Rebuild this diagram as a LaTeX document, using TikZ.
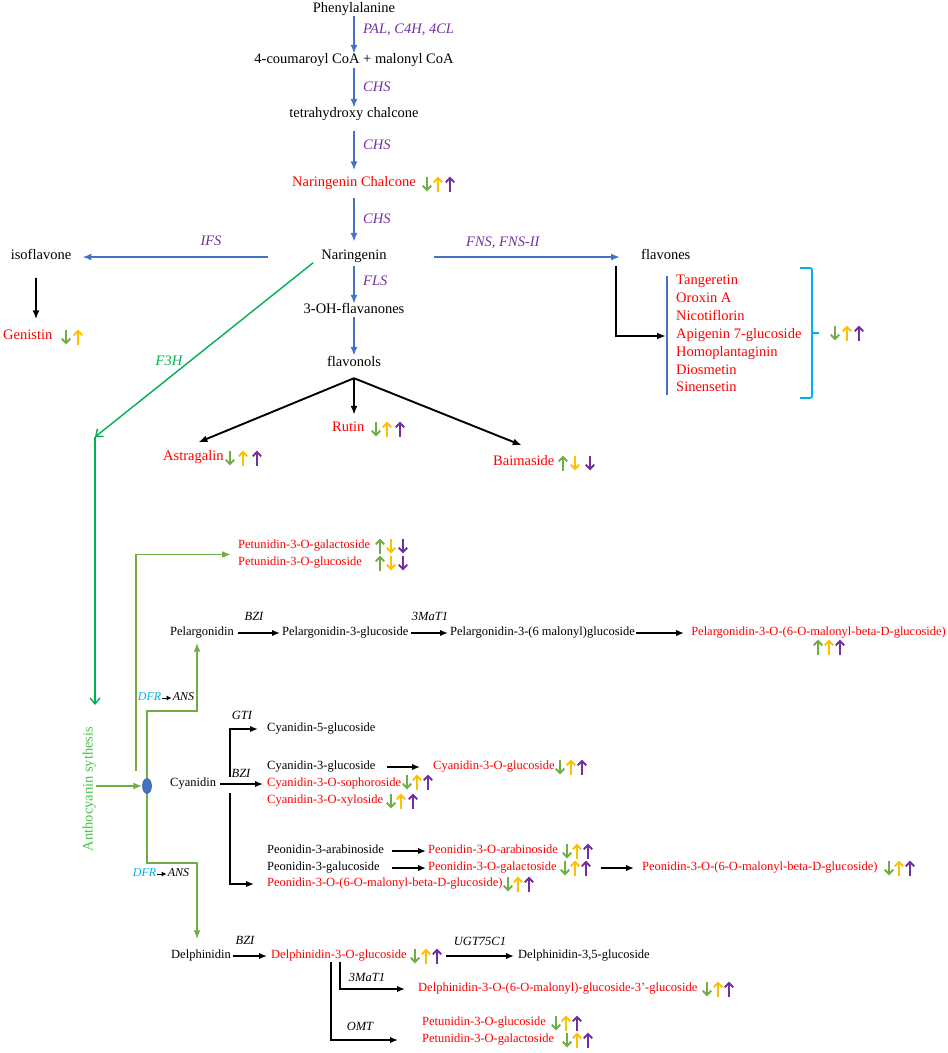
\documentclass[tikz,border=0pt]{standalone}
\usepackage{fontspec}
\setmainfont{Liberation Serif}
\usetikzlibrary{arrows.meta,calc,shapes.geometric}
\definecolor{ablue}{HTML}{4472C4}
\definecolor{epurp}{HTML}{7030A0}
\definecolor{cred}{HTML}{FF0000}
\definecolor{ag}{HTML}{70AD47}
\definecolor{ay}{HTML}{FFC000}
\definecolor{ap}{HTML}{7030A0}
\definecolor{fgreen}{HTML}{00B050}
\definecolor{anthg}{HTML}{4CC24C}
\definecolor{lgreen}{HTML}{70AD47}
\definecolor{bcyan}{HTML}{00B0F0}
\tikzset{
 glyph/.style={line width=1.9pt,-{Straight Barb[length=4.5pt,width=8.5pt]}},
 pics/U/.style={code={\draw[glyph,draw=#1] (0,7.5) -- (0,-7.5);}},
 pics/D/.style={code={\draw[glyph,draw=#1] (0,-7.5) -- (0,7.5);}},
}
\begin{document}
\begin{tikzpicture}[x=1pt,y=-1pt,
 every node/.style={inner sep=1pt,text height=0.7em,text depth=0.2em},
 big/.style={font=\fontsize{14.5}{17}\selectfont},
 sm/.style={font=\fontsize{12.5}{15}\selectfont},
 bigr/.style={big,text=cred},
 smr/.style={sm,text=cred},
 enz/.style={font=\fontsize{14.5}{17}\selectfont\itshape,text=epurp},
 senz/.style={font=\fontsize{12.5}{15}\selectfont\itshape},
 barr/.style={draw=ablue,line width=1.8pt,-{Latex[length=9pt,width=7pt]}},
 karr/.style={draw=black,line width=1.9pt,-{Latex[length=9pt,width=7pt]}},
 skarr/.style={draw=black,line width=1.7pt,-{Latex[length=8pt,width=6.5pt]}},
 garr/.style={draw=lgreen,line width=1.8pt,-{Latex[length=9pt,width=7pt]}},
 fline/.style={draw=fgreen,line width=1.4pt,-{Straight Barb[length=6pt,width=10pt]}},
]
\useasboundingbox (0,0) rectangle (948,1053);

% ---------- main chain ----------
\node[big] (phe) at (354,10) {Phenylalanine};
\node[big] (cou) at (354,61) {4-coumaroyl CoA + malonyl CoA};
\node[big] (tet) at (354,115) {tetrahydroxy chalcone};
\node[bigr] (nch) at (354,184) {Naringenin Chalcone};
\node[big] (nar) at (354,257) {Naringenin};
\node[big] (oh) at (354,311) {3-OH-flavanones};
\node[big] (flo) at (354,364) {flavonols};

\node[enz,anchor=west] (e1) at (362,31) {PAL, C4H, 4CL};
\node[enz,anchor=west] (e2) at (362,89) {CHS};
\node[enz,anchor=west] (e3) at (362,147) {CHS};
\node[enz,anchor=west] (e4) at (362,221) {CHS};
\node[enz] (e5) at (211,243) {IFS};
\node[enz,anchor=west] (e6) at (465,244) {FNS, FNS-II};
\node[enz,anchor=west] (e7) at (362,283) {FLS};
\node[enz,text=fgreen] (e8) at (169,363) {F3H};

\draw[barr,shorten <=0pt,shorten >=1.5pt] (phe) -- (cou);
\draw[barr,shorten <=1.5pt,shorten >=1.5pt] (cou) -- (tet);
\draw[barr,shorten <=10pt,shorten >=8pt] (tet) -- (nch);
\draw[barr,shorten <=8.5pt,shorten >=9.5pt] (nch) -- (nar);
\draw[barr,shorten <=3.5pt,shorten >=1.5pt] (nar) -- (oh);
\draw[barr,shorten >=2.5pt] (oh) -- (flo);

\pic at (427,184) {D=ag}; \pic at (438,184) {U=ay}; \pic at (450,184) {U=ap};

% ---------- isoflavone ----------
\node[big] (iso) at (41,257) {isoflavone};
\node[bigr,anchor=west] (gen) at (2,337) {Genistin};
\draw[barr,shorten <=52pt,shorten >=10pt] (nar.west) -- (iso.east);
\draw[karr,shorten <=15pt,shorten >=12pt] ([xshift=-5pt]iso.south) -- ([xshift=-5pt]iso.south |- gen.north);
\pic at (66,337) {D=ag}; \pic at (78,337) {U=ay};

% ---------- flavones ----------
\node[big,anchor=west] (fla) at (640,257) {flavones};
\draw[barr,shorten <=46pt,shorten >=20pt] (nar.east) -- (fla.west);
\node[bigr,anchor=west] (l1) at (675,282) {Tangeretin};
\node[bigr,anchor=west] (l2) at (675,300) {Oroxin A};
\node[bigr,anchor=west] (l3) at (675,318) {Nicotiflorin};
\node[bigr,anchor=west] (l4) at (675,336) {Apigenin 7-glucoside};
\node[bigr,anchor=west] (l5) at (675,354) {Homoplantaginin};
\node[bigr,anchor=west] (l6) at (675,372) {Diosmetin};
\node[bigr,anchor=west] (l7) at (675,389) {Sinensetin};
\draw[karr,shorten <=3.5pt,shorten >=9pt] ([xshift=-24pt]fla.south west) |- (l4.west);
\draw[draw=ablue,line width=1.8pt] ([xshift=-8pt]l1.north west) -- ([xshift=-8pt]l7.south west);
\draw[draw=bcyan,line width=1.9pt,rounded corners=2pt] (800,268) -- (812,268) -- (812,398) -- (800,398);
\draw[draw=bcyan,line width=1.9pt] (812,333) -- (819,333);
\pic at (835,333) {D=ag}; \pic at (847,333) {U=ay}; \pic at (859,333) {U=ap};

% ---------- flavonols ----------
\node[bigr,anchor=west] (rut) at (331,429) {Rutin};
\node[bigr,anchor=west] (ast) at (162,458) {Astragalin};
\node[bigr,anchor=west] (bai) at (492,463) {Baimaside};
\coordinate (fork) at ($(flo.south)+(0,8.5)$);
\draw[karr,shorten >=8.5pt] (fork) -- (fork |- rut.north);
\draw[karr] (fork) -- ([xshift=5pt,yshift=10pt]ast.north);
\draw[karr] (fork) -- ([xshift=-2pt,yshift=12pt]bai.north);
\pic at (376,429) {D=ag}; \pic at (387,429) {U=ay}; \pic at (400,429) {U=ap};
\pic at (230,458) {D=ag}; \pic at (243,458) {U=ay}; \pic at (257,458) {U=ap};
\pic at (563,463) {U=ag}; \pic at (575,463) {D=ay}; \pic at (590,463) {D=ap};

% ---------- F3H / anthocyanin ----------
\coordinate (f3hc) at (95,437);
\coordinate (antop) at (95,705);
\draw[fline] ([xshift=-7pt]nar.south west) -- (f3hc);
\draw[fline] (f3hc) -- (antop);
\node[font=\fontsize{14.5}{17}\selectfont,text=anthg,rotate=90] (anth) at (90,789) {Anthocyanin sythesis};
\node[ellipse,fill=ablue,draw=ablue!70!black,line width=0.5pt,minimum width=9pt,minimum height=15pt,inner sep=0pt] (ell) at (147,786) {};
\draw[garr] (anth.south |- ell.west) -- (ell.west);

% petunidin (top)
\node[smr,anchor=west] (pet1) at (237,546) {Petunidin-3-O-galactoside};
\node[smr,anchor=west] (pet2) at (237,563) {Petunidin-3-O-glucoside};
\coordinate (pst) at (136,771);
\draw[garr,shorten >=6pt] (pst) |- ($(pet1.west)!.5!(pet2.west)$);
\pic at (380,546) {U=ag}; \pic at (391,546) {D=ay}; \pic at (403,546) {D=ap};
\pic at (380,563) {U=ag}; \pic at (391,563) {D=ay}; \pic at (403,563) {D=ap};

% pelargonidin
\node[sm,anchor=west] (pel) at (169,633) {Pelargonidin};
\node[sm,anchor=west] (pel3g) at (281,633) {Pelargonidin-3-glucoside};
\node[sm,anchor=west] (pel6m) at (449,633) {Pelargonidin-3-(6 malonyl)glucoside};
\node[smr,anchor=east] (pelr) at (947,633) {Pelargonidin-3-O-(6-O-malonyl-beta-D-glucoside)};
\node[senz] (bz1) at (254,618) {BZI};
\node[senz] (mt1) at (430,618) {3MaT1};
\draw[skarr,shorten <=3pt,shorten >=1pt] (pel.east) -- (pel3g.west);
\draw[skarr,shorten <=1.5pt,shorten >=1pt] (pel3g.east) -- (pel6m.west);
\draw[skarr,shorten >=6pt] (pel6m.east) -- (pelr.west);
\draw[garr,shorten >=4pt] (ell.north) -- (ell.north |- 0,711) -| ([xshift=-5pt]pel.south);
\pic at (818,647) {U=ag}; \pic at (829,647) {U=ay}; \pic at (840,647) {U=ap};

\node[font=\fontsize{12}{14}\selectfont\itshape,text=bcyan] (dfr1) at (149.5,698) {DFR};
\node[font=\fontsize{12}{14}\selectfont\itshape] (ans1) at (183.5,698) {ANS};
\draw[line width=0.9pt,-{Latex[length=5pt,width=5pt]}] (dfr1.east) -- (ans1.west);

% cyanidin
\node[sm,anchor=west] (cya) at (169,784) {Cyanidin};
\node[sm,anchor=west] (c5g) at (266,729) {Cyanidin-5-glucoside};
\node[sm,anchor=west] (c3g) at (266,767) {Cyanidin-3-glucoside};
\node[smr,anchor=west] (cog) at (432,767) {Cyanidin-3-O-glucoside};
\node[smr,anchor=west] (cs) at (266,784) {Cyanidin-3-O-sophoroside};
\node[smr,anchor=west] (cx) at (266,801) {Cyanidin-3-O-xyloside};
\node[sm,anchor=west] (pa) at (266,851) {Peonidin-3-arabinoside};
\node[smr,anchor=west] (par) at (427,851) {Peonidin-3-O-arabinoside};
\node[sm,anchor=west] (pg) at (266,868) {Peonidin-3-galucoside};
\node[smr,anchor=west] (pgr) at (427,868) {Peonidin-3-O-galactoside};
\node[smr,anchor=west] (pmr) at (641,868) {Peonidin-3-O-(6-O-malonyl-beta-D-glucoside)};
\node[smr,anchor=west] (pm) at (266,884) {Peonidin-3-O-(6-O-malonyl-beta-D-glucoside)};
\node[senz] (gti) at (242,717) {GTI};
\node[senz] (bz2) at (241,775) {BZI};
\coordinate (gt0) at (230,777);
\coordinate (pm0) at (230,793);
\draw[skarr,shorten <=3pt,shorten >=3pt] (cya.east) -- (cs.west);
\draw[skarr,shorten >=8pt] (gt0) |- (c5g.west);
\draw[skarr,shorten >=12pt] (pm0) |- (pm.west);
\draw[skarr,shorten <=10.5pt,shorten >=12pt] (c3g.east) -- (cog.west);
\draw[skarr,shorten <=7pt,shorten >=1pt] (pa.east) -- (par.west);
\draw[skarr,shorten <=11pt,shorten >=1pt] (pg.east) -- (pgr.west);
\draw[skarr,shorten <=43pt,shorten >=7pt] (pgr.east) -- (pmr.west);
\pic at (560,767) {D=ag}; \pic at (571,767) {U=ay}; \pic at (582,767) {U=ap};
\pic at (407,782) {D=ag}; \pic at (417,782) {U=ay}; \pic at (428,782) {U=ap};
\pic at (391,801) {D=ag}; \pic at (401,801) {U=ay}; \pic at (413,801) {U=ap};
\pic at (567,851) {D=ag}; \pic at (577,851) {U=ay}; \pic at (588,851) {U=ap};
\pic at (565,868) {D=ag}; \pic at (575,868) {U=ay}; \pic at (586,868) {U=ap};
\pic at (889,868) {D=ag}; \pic at (899,868) {U=ay}; \pic at (910,868) {U=ap};
\pic at (508,884) {D=ag}; \pic at (518,884) {U=ay}; \pic at (529,884) {U=ap};

\node[font=\fontsize{12}{14}\selectfont\itshape,text=bcyan] (dfr2) at (144.5,874) {DFR};
\node[font=\fontsize{12}{14}\selectfont\itshape] (ans2) at (178.5,874) {ANS};
\draw[line width=0.9pt,-{Latex[length=5pt,width=5pt]}] (dfr2.east) -- (ans2.west);

% delphinidin
\node[sm,anchor=west] (del) at (170,956) {Delphinidin};
\node[smr,anchor=west] (dog) at (270,956) {Delphinidin-3-O-glucoside};
\node[sm,anchor=west] (d35) at (517,956) {Delphinidin-3,5-glucoside};
\node[smr,anchor=west] (dmal) at (417,989) {Delphinidin-3-O-(6-O-malonyl)-glucoside-3'-glucoside};
\node[smr,anchor=west] (pg3) at (421,1023) {Petunidin-3-O-glucoside};
\node[smr,anchor=west] (pga3) at (421,1040) {Petunidin-3-O-galactoside};
\node[senz] (bz3) at (245,942) {BZI};
\node[senz] (ugt) at (480,943) {UGT75C1};
\node[senz] (mt2) at (367,979) {3MaT1};
\node[senz] (omt) at (360,1028) {OMT};
\draw[garr,shorten >=11pt] (ell.south) -- (ell.south |- 0,863) -| ([xshift=-4pt]del.north);
\draw[skarr,shorten <=1pt,shorten >=3pt] (del.east) -- (dog.west);
\draw[skarr,shorten <=38pt,shorten >=3pt] (dog.east) -- (d35.west);
\draw[skarr,shorten >=12pt] (dog.south -| 340,0) |- (dmal.west);
\draw[skarr,shorten >=23pt] (dog.south -| 331,0) |- (pga3.west);
\pic at (415,956) {D=ag}; \pic at (426,956) {U=ay}; \pic at (437,956) {U=ap};
\pic at (707,989) {D=ag}; \pic at (718,989) {U=ay}; \pic at (729,989) {U=ap};
\pic at (556,1023) {D=ag}; \pic at (566,1023) {U=ay}; \pic at (577,1023) {U=ap};
\pic at (567,1040) {D=ag}; \pic at (577,1040) {U=ay}; \pic at (588,1040) {U=ap};
\end{tikzpicture}
\end{document}
